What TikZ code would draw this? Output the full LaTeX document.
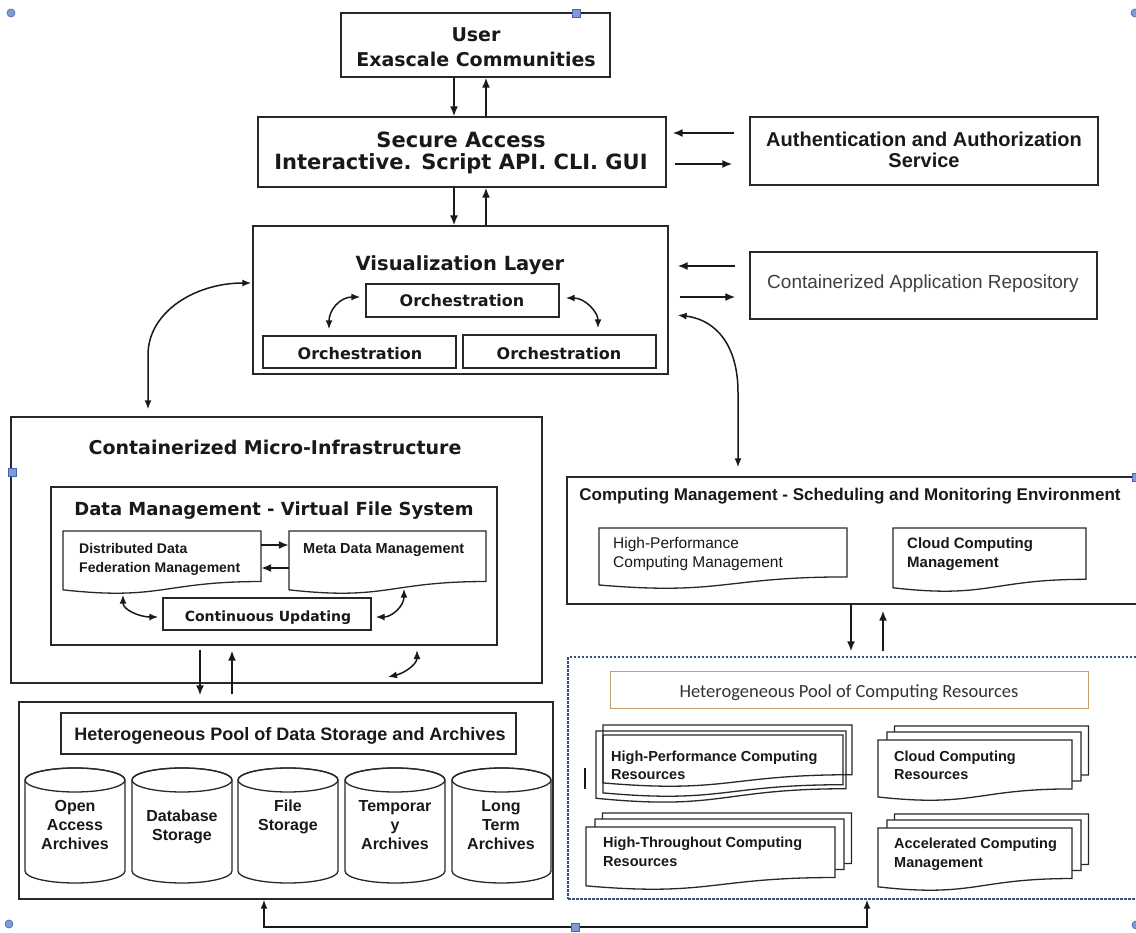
\documentclass[tikz,border=0pt]{standalone}
\usepackage{fontspec}
\setmainfont{DejaVu Sans}
\newfontfamily\libsans{Liberation Sans}
\newfontfamily\carlito{Carlito}
\usetikzlibrary{arrows.meta,calc,fit}

\definecolor{ink}{RGB}{25,25,25}
\definecolor{edge}{RGB}{40,40,40}
\definecolor{poolblue}{RGB}{55,80,130}
\definecolor{tanline}{RGB}{195,160,110}
\definecolor{handlefill}{RGB}{125,155,215}
\definecolor{handleedge}{RGB}{70,100,170}

\tikzset{
  box/.style={draw=edge, line width=1.4pt, fill=white, inner sep=0pt},
  docline/.style={draw=edge, line width=1.3pt},
  arr/.style={draw=ink, line width=1.6pt, -{Latex[length=10pt,width=8pt]}},
  darr/.style={draw=ink, line width=1.5pt, {Latex[length=9pt,width=7pt]}-{Latex[length=9pt,width=7pt]}},
  lbl/.style={inner sep=0pt, anchor=base, text=ink},
  lbll/.style={inner sep=0pt, anchor=base west, text=ink},
  big/.style={font=\bfseries\fontsize{#1}{#1}\selectfont},
  lib/.style={font=\libsans\bfseries\fontsize{#1}{#1}\selectfont},
  libr/.style={font=\libsans\fontsize{#1}{#1}\selectfont},
  handle/.style={fill=handlefill, draw=handleedge, line width=0.6pt, inner sep=0pt, minimum size=8pt},
}

% rectangle node spanning two corners: name, x0, y0, x1, y1
\newcommand{\rectnode}[6][]{\node[box,#1,fit={(#3,#4)(#5,#6)}] (#2) {};}

% document shape with a wavy bottom: [opts] name, x0, y0, x1, height
\newcommand{\docshape}[6][]{%
  \pgfmathsetmacro\dyr{#4+0.802*#6}%
  \pgfmathsetmacro\dyc{#4+1.1075*#6}%
  \pgfmathsetmacro\dyl{#4+0.934*#6}%
  \pgfmathsetmacro\dxm{(#3+#5)/2}%
  \draw[docline,#1] (#3,#4) -- (#5,#4) -- (#5,\dyr) .. controls (\dxm,\dyr) and (\dxm,\dyc) .. (#3,\dyl) -- cycle;
  \node[inner sep=0pt, fit={(#3,#4)(#5,\dyr)}] (#2) {};
}

% stacked documents: name, x0, y0, x1, height (front sheet)
\newcommand{\multidoc}[5]{%
  \docshape[fill=white]{#1-2}{#2+16.5}{#3-14}{#4+16.5}{#5}
  \docshape[fill=white]{#1-1}{#2+9}{#3-8}{#4+9}{#5}
  \docshape[fill=white]{#1}{#2}{#3}{#4}{#5}
}

% storage cylinder: name, left, right
\newcommand{\storecyl}[3]{%
  \pgfmathsetmacro\cxm{(#2+#3)/2}%
  \pgfmathsetmacro\crx{(#3-#2)/2}%
  \draw[docline, fill=white] (#2,780) -- (#2,871) arc[start angle=180, end angle=360, x radius=\crx pt, y radius=12pt] -- (#3,780) arc[start angle=0, end angle=180, x radius=\crx pt, y radius=12pt] -- cycle;
  \draw[docline] (\cxm,780) ellipse[x radius=\crx pt, y radius=12pt];
  \node[inner sep=0pt, fit={(#2,768)(#3,883)}] (#1) {};
}

\begin{document}
\begin{tikzpicture}[x=1pt,y=-1pt]
\useasboundingbox (0,0) rectangle (1136,933);
\fill[white] (0,0) rectangle (1136,933);

% ---- user and access ----
\rectnode{user}{341}{13}{610}{77}
\node[lbl,big=19] (userA) at (476,42) {User};
\node[lbl,big=19] (userB) at (476,67) {Exascale Communities};

\rectnode{sec}{258}{117}{666}{187}
\node[lbl,big=21] (secA) at (461,148) {Secure Access};
\node[lbl,big=21] (secB) at (461,170) {Interactive. Script API. CLI. GUI};

\rectnode{auth}{750}{117}{1098}{185}
\node[lbl,lib=20] (authA) at (924,147) {Authentication and Authorization};
\node[lbl,lib=20] (authB) at (924,168) {Service};

% ---- visualization layer ----
\rectnode{vis}{253}{226}{668}{374}
\node[lbl,big=19.5] (visT) at (460,271) {Visualization Layer};
\rectnode{orchT}{366}{284}{559}{317}
\node[lbl,big=16] (orchTt) at (462,307) {Orchestration};
\rectnode{orchL}{263}{336}{456}{368}
\node[lbl,big=16] (orchLt) at (360,360) {Orchestration};
\rectnode{orchR}{463}{335}{656}{368}
\node[lbl,big=16] (orchRt) at (559,360) {Orchestration};

\rectnode{car}{750}{252}{1097}{319}
\node[lbl,libr=19,text=black!75] (carT) at (923,289) {Containerized Application Repository};

% ---- containerized micro-infrastructure ----
\rectnode{cmi}{11}{417}{542}{683}
\node[lbl,big=19] (cmiT) at (275,454) {Containerized Micro-Infrastructure};
\rectnode{dm}{51}{487}{497}{645}
\node[lbl,big=18] (dmT) at (274,515) {Data Management - Virtual File System};
\docshape[fill=white]{ddf}{63}{531}{261}{63}
\node[lbll,lib=14] (ddfA) at (79,553) {Distributed Data};
\node[lbll,lib=14] (ddfB) at (79,572) {Federation Management};
\docshape[fill=white]{meta}{289}{531}{486}{63}
\node[lbll,lib=14.5] (metaT) at (303,553) {Meta Data Management};
\rectnode{cu}{163}{598}{371}{630}
\node[lbl,big=14] (cuT) at (268,621) {Continuous Updating};

% ---- data storage ----
\rectnode{store}{19}{702}{553}{899}
\rectnode{stitle}{61}{713}{516}{754}
\node[lbl,lib=18] (stT) at (290,740) {Heterogeneous Pool of Data Storage and Archives};
\storecyl{cylA}{25}{125}
\storecyl{cylB}{132}{232}
\storecyl{cylC}{238}{338}
\storecyl{cylD}{345}{445}
\storecyl{cylE}{452}{551}
\node[lbl,lib=16] (cylA1) at (75,811) {Open};
\node[lbl,lib=16] (cylA2) at (75,830) {Access};
\node[lbl,lib=16] (cylA3) at (75,849) {Archives};
\node[lbl,lib=16] (cylB1) at (182,821) {Database};
\node[lbl,lib=16] (cylB2) at (182,840) {Storage};
\node[lbl,lib=16] (cylC1) at (288,811) {File};
\node[lbl,lib=16] (cylC2) at (288,830) {Storage};
\node[lbl,lib=16] (cylD1) at (395,811) {Temporar};
\node[lbl,lib=16] (cylD2) at (395,830) {y};
\node[lbl,lib=16] (cylD3) at (395,849) {Archives};
\node[lbl,lib=16] (cylE1) at (501,811) {Long};
\node[lbl,lib=16] (cylE2) at (501,830) {Term};
\node[lbl,lib=16] (cylE3) at (501,849) {Archives};

% ---- computing management ----
\rectnode{cm}{567}{477}{1145}{604}
\node[lbl,lib=17] (cmT) at (850,500) {Computing Management - Scheduling and Monitoring Environment};
\docshape[fill=white]{hpcm}{599}{528}{847}{61}
\node[lbll,libr=15.5] (hpcmA) at (613,548) {High-Performance};
\node[lbll,libr=15.5] (hpcmB) at (613,567) {Computing Management};
\docshape[fill=white]{ccm}{893}{528}{1086}{64}
\node[lbll,lib=15] (ccmA) at (907,548) {Cloud Computing};
\node[lbll,lib=15] (ccmB) at (907,567) {Management};

% ---- computing resources ----
\node[box, draw=poolblue, dash pattern=on 2.5pt off 1.5pt, fit={(568,657)(1145,899)}] (pool) {};
\node[box, draw=tanline, line width=1pt, fit={(610,671)(1088,708)}] (ptitle) {};
\node[lbl, font=\carlito\fontsize{18.5}{18.5}\selectfont, text=black!80] (ptT) at (849,697) {Heterogeneous Pool of Computing Resources};

\docshape{hpcrA}{603}{725}{852}{62}
\docshape{hpcrB}{596}{731}{846}{72}
\docshape{hpcrC}{603}{735}{843}{62}
\node[lbll,lib=14.5] (hpcr1) at (611,761) {High-Performance Computing};
\node[lbll,lib=14.5] (hpcr2) at (611,779) {Resources};
\draw[ink, line width=2.6pt] (585,768) -- (585,789);

\multidoc{cloudr}{878}{740}{1072}{61}
\node[lbll,lib=14.5] (cloudr1) at (894,761) {Cloud Computing};
\node[lbll,lib=14.5] (cloudr2) at (894,779) {Resources};
\multidoc{htcr}{586}{827}{835}{63}
\node[lbll,lib=14.5] (htcr1) at (603,847) {High-Throughout Computing};
\node[lbll,lib=14.5] (htcr2) at (603,866) {Resources};
\multidoc{accr}{878}{828}{1072}{63}
\node[lbll,lib=14.5] (accr1) at (894,848) {Accelerated Computing};
\node[lbll,lib=14.5] (accr2) at (894,867) {Management};

% ---- connectors ----
\draw[arr] (454,0 |- user.south) -- (454,0 |- sec.north);
\draw[arr] (486,0 |- sec.north) -- (486,0 |- user.south);
\draw[arr] (454,0 |- sec.south) -- (454,0 |- vis.north);
\draw[arr] (486,0 |- vis.north) -- (486,0 |- sec.south);
\draw[arr, shorten <=15pt, shorten >=6pt] (auth.west |- 0,133) -- (sec.east |- 0,133);
\draw[arr, shorten <=8pt, shorten >=17pt] (sec.east |- 0,164) -- (auth.west |- 0,164);
\draw[arr, shorten <=14pt, shorten >=9pt] (car.west |- 0,266) -- (vis.east |- 0,266);
\draw[arr, shorten <=11pt, shorten >=14pt] (vis.east |- 0,297) -- (car.west |- 0,297);

\draw[darr, shorten <=9pt, shorten >=9pt] (vis.east |- 0,314) .. controls (718,320) and (738,348) .. (738,392) -- (738,0 |- cm.north);
\draw[darr, shorten <=1pt, shorten >=7pt] (vis.west |- 0,283) .. controls (195,283) and (148,312) .. (148,355) -- (148,0 |- cmi.north);

\draw[darr, shorten <=5pt, shorten >=6pt] (orchT.west |- 0,297) .. controls (340,297) and (329,310) .. (329,0 |- orchL.north);
\draw[darr, shorten <=6pt, shorten >=6pt] (orchT.east |- 0,298) .. controls (585,298) and (598,312) .. (598,0 |- orchR.north);

\draw[arr] (ddf.east |- 0,545) -- (meta.west |- 0,545);
\draw[arr] (meta.west |- 0,568) -- (ddf.east |- 0,568);
\draw[darr, shorten <=13pt, shorten >=4pt] (123,0 |- ddf.south) .. controls (123,610) and (140,617) .. (cu.west |- 0,617);
\draw[darr, shorten <=4pt, shorten >=7pt] (cu.east |- 0,617) .. controls (392,617) and (404,606) .. (404,0 |- meta.south);
\coordinate (cmiA) at (388,677);
\coordinate (cmiB) at (417,650);
\draw[darr] (cmiA) .. controls (405,673) and (417,664) .. (cmiB);

\draw[arr, shorten <=4pt, shorten >=6pt] (200,0 |- dm.south) -- (200,0 |- store.north);
\draw[arr, shorten <=7pt, shorten >=5pt] (232,0 |- store.north) -- (232,0 |- dm.south);

\draw[arr, shorten >=5pt] (851,0 |- cm.south) -- (851,0 |- pool.north);
\draw[arr, shorten <=5pt, shorten >=6pt] (883,0 |- pool.north) -- (883,0 |- cm.south);

\draw[darr] (264,0 |- store.south) |- (867,927) -- (867,0 |- pool.south);

% ---- canvas handles ----
\node[handle, circle] (hTL) at (11,13) {};
\node[handle, circle] (hTR) at (1135,13) {};
\node[handle, circle] (hBL) at (9,924) {};
\node[handle, circle] (hBR) at (1136,925) {};
\node[handle] (hT) at (576,13) {};
\node[handle] (hL) at (12,472) {};
\node[handle] (hR) at (1136,477) {};
\node[handle] (hB) at (575,927) {};
\end{tikzpicture}
\end{document}
